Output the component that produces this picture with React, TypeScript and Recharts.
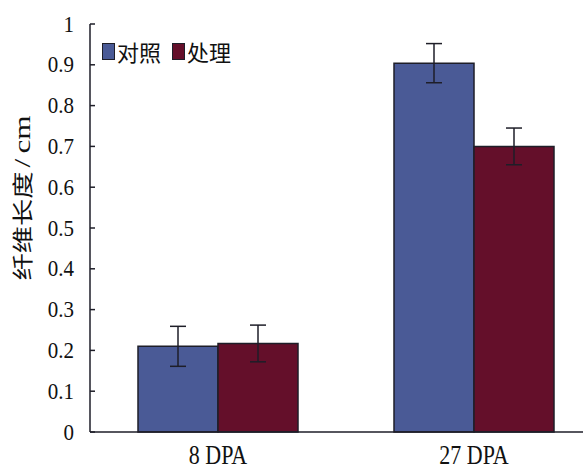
import { BarChart, Bar, XAxis, YAxis, ErrorBar, Legend } from 'recharts'

const categories = ['8 DPA', '27 DPA']
const seriesNames = ['对照', '处理']
const controlValues = [0.21, 0.904]
const controlErrors = [0.049, 0.048]
const treatValues = [0.217, 0.7]
const treatErrors = [0.045, 0.045]
const yTicks = [0, 0.1, 0.2, 0.3, 0.4, 0.5, 0.6, 0.7, 0.8, 0.9, 1]

const data = categories.map((c, i) => ({
  name: c,
  control: controlValues[i],
  controlErr: controlErrors[i],
  treat: treatValues[i],
  treatErr: treatErrors[i],
}))

const SERIF = '"Liberation Serif", "Times New Roman", "DejaVu Serif", serif'
const CJK = '"Noto Sans CJK SC", sans-serif'
const INK = '#1e1e28'

function YTick(props: any) {
  const { x, y, payload } = props
  return (
    <g>
      <line x1={x + 16} x2={x + 21} y1={y} y2={y} stroke={INK} strokeWidth={1.5} />
      <text
        transform={`translate(${x},${y + 7.5}) scale(1,1.12)`}
        textAnchor="end"
        style={{ fontFamily: SERIF, fontSize: 21 }}
        fill="#111"
      >
        {String(payload.value)}
      </text>
    </g>
  )
}

function XTick(props: any) {
  const { x, y, payload } = props
  return (
    <text
      transform={`translate(${x},${y + 32}) scale(1,1.22)`}
      textAnchor="middle"
      style={{ fontFamily: SERIF, fontSize: 22 }}
      fill="#111"
    >
      {payload.value}
    </text>
  )
}

function YLabel(props: any) {
  const { viewBox } = props
  const cx = viewBox.x - 7
  const cy = viewBox.y + viewBox.height / 2 - 30
  return (
    <text
      transform={`translate(${cx},${cy}) rotate(-90) scale(1.3,1)`}
      textAnchor="middle"
      dy={7}
      fill="#111"
    >
      <tspan style={{ fontFamily: CJK, fontSize: 21 }}>纤维长度</tspan>
      <tspan style={{ fontFamily: SERIF, fontSize: 24 }} dx={3}>/</tspan>
      <tspan style={{ fontFamily: SERIF, fontSize: 24 }} dx={4}>cm</tspan>
    </text>
  )
}

function LegendBox(props: any) {
  const { payload } = props
  const items = [...(payload || [])].sort(
    (a: any, b: any) => seriesNames.indexOf(a.value) - seriesNames.indexOf(b.value)
  )
  return (
    <div style={{ display: 'flex', alignItems: 'center' }}>
      {items.map((e: any) => (
        <div key={e.value} style={{ display: 'flex', alignItems: 'center', marginRight: 11 }}>
          <span
            style={{
              display: 'inline-block',
              width: 11,
              height: 15,
              background: e.color,
              border: `1px solid ${INK}`,
              marginRight: 2,
            }}
          />
          <span style={{ fontFamily: CJK, fontSize: 22, color: '#111', lineHeight: '26px' }}>
            {e.value}
          </span>
        </div>
      ))}
    </div>
  )
}

export default function App() {
  return (
    <div
      style={{
        position: 'absolute',
        left: 0,
        top: 0,
        width: 583,
        height: 470,
        overflow: 'hidden',
        background: '#fff',
      }}
    >
      <BarChart
        width={620}
        height={470}
        data={data}
        margin={{ top: 24, right: 18, left: 30, bottom: 8 }}
        barGap={0}
        barCategoryGap="18.75%"
      >
        <XAxis
          dataKey="name"
          height={30}
          tick={<XTick />}
          tickLine={false}
          tickSize={0}
          tickMargin={0}
          axisLine={{ stroke: INK, strokeWidth: 1.5 }}
        />
        <YAxis
          width={60}
          domain={[0, 1]}
          ticks={yTicks}
          interval={0}
          tick={<YTick />}
          tickLine={false}
          tickSize={0}
          tickMargin={16}
          axisLine={{ stroke: INK, strokeWidth: 1.5 }}
          label={<YLabel />}
        />
        <Legend
          layout="horizontal"
          verticalAlign="middle"
          content={<LegendBox />}
          wrapperStyle={{ left: 102, top: 38, width: 'auto' }}
        />
        <Bar dataKey="control" name={seriesNames[0]} fill="#4a5a96" stroke={INK} strokeWidth={1.5} isAnimationActive={false}>
          <ErrorBar dataKey="controlErr" width={8} stroke={INK} strokeWidth={1.5} />
        </Bar>
        <Bar dataKey="treat" name={seriesNames[1]} fill="#640f2a" stroke={INK} strokeWidth={1.5} isAnimationActive={false}>
          <ErrorBar dataKey="treatErr" width={8} stroke={INK} strokeWidth={1.5} />
        </Bar>
      </BarChart>
    </div>
  )
}
